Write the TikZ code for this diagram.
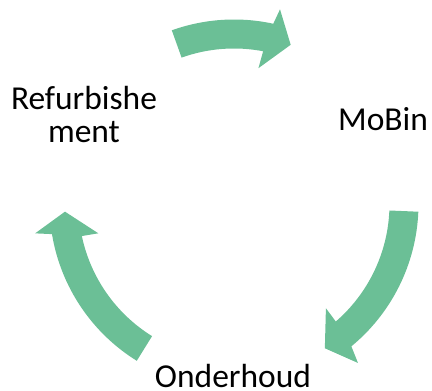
\documentclass[tikz,border=0pt]{standalone}
\usepackage{fontspec}
\setmainfont{Carlito}
\definecolor{arrowgreen}{RGB}{107,191,150}
\begin{document}
\begin{tikzpicture}[x=0.75pt,y=0.75pt,
  cyclearrow/.style={fill=arrowgreen,draw=none},
  lbl/.style={inner sep=0pt,outer sep=0pt,anchor=base,align=center,
    font=\fontsize{25.1pt}{24.75pt}\selectfont}]
\useasboundingbox (0,0) rectangle (432,391);
\coordinate (C) at (234,187);
% top arrow
\fill[cyclearrow] (C) ++(109.7:184.5) arc[start angle=109.7,end angle=77.7,radius=184.5]
  -- ([shift={(76.7:200)}]C) -- ([shift={(70.4:169)}]C) -- ([shift={(79.8:138)}]C)
  -- ([shift={(79.2:155.5)}]C) arc[start angle=79.2,end angle=109.7,radius=155.5] -- cycle;
% right arrow
\fill[cyclearrow] (C) ++(-2.4:184.5) arc[start angle=-2.4,end angle=-50.5,radius=184.5]
  -- ([shift={(-52.05:201.6)}]C) -- ([shift={(-57.8:170.5)}]C) -- ([shift={(-48.6:139)}]C)
  -- ([shift={(-49.1:155.5)}]C) arc[start angle=-49.1,end angle=-2.4,radius=155.5] -- cycle;
% left arrow
\fill[cyclearrow] (C) ++(238.2:184.5) arc[start angle=238.2,end angle=189.4,radius=184.5]
  -- ([shift={(188.4:201)}]C) -- ([shift={(182.6:169.2)}]C) -- ([shift={(192.2:138.8)}]C)
  -- ([shift={(191.9:155.5)}]C) arc[start angle=191.9,end angle=238.2,radius=155.5] -- cycle;
% labels
\node[lbl] (refurb) at (84,248) {Refurbishe\\ment};
\node[lbl] (mobin) at (383,260) {MoBin};
\node[lbl] (onder) at (233,3.5) {Onderhoud};
\end{tikzpicture}
\end{document}
